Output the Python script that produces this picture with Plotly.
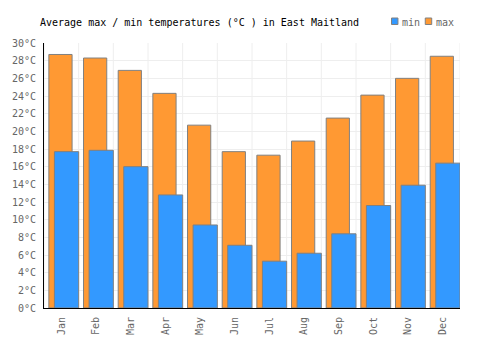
import plotly.graph_objects as go

months = ["Jan", "Feb", "Mar", "Apr", "May", "Jun", "Jul", "Aug", "Sep", "Oct", "Nov", "Dec"]
max_t = [28.7, 28.3, 26.9, 24.3, 20.7, 17.7, 17.3, 18.9, 21.5, 24.1, 26.0, 28.5]
min_t = [17.7, 17.85, 16.0, 12.8, 9.4, 7.1, 5.3, 6.2, 8.4, 11.6, 13.9, 16.4]
y_ticks = list(range(0, 31, 2))
y_tick_labels = [f"{v}°C" for v in y_ticks]

FONT = "DejaVu Sans Mono"
MIN_C = "#3399FF"
MAX_C = "#FF9933"

fig = go.Figure()
fig.add_trace(go.Bar(
    x=months, y=max_t, name="max", marker=dict(color=MAX_C, line=dict(color="#808080", width=1)),
    offset=-0.36, width=0.67, showlegend=False,
))
fig.add_trace(go.Bar(
    x=months, y=min_t, name="min", marker=dict(color=MIN_C, line=dict(color="#808080", width=1)),
    offset=-0.2, width=0.7, showlegend=False,
))

def px_x(p):
    return (p - 41) / 419

def px_y(p):
    return (308 - p) / 265

# custom legend
legend_items = [("min", MIN_C, 391), ("max", MAX_C, 425)]
for label, col, px in legend_items:
    fig.add_shape(type="rect", xref="paper", yref="paper",
                  x0=px_x(px), x1=px_x(px + 6.5),
                  y0=px_y(24.5), y1=px_y(18),
                  fillcolor=col, line=dict(color="#808080", width=1))
    fig.add_annotation(text=label, xref="paper", yref="paper",
                       x=px_x(px + 8.5), y=px_y(22),
                       xanchor="left", yanchor="middle", showarrow=False,
                       font=dict(family=FONT, size=10, color="#666666"))

fig.update_layout(
    width=500, height=350,
    margin=dict(l=41, r=40, t=43, b=42),
    barmode="overlay",
    plot_bgcolor="white", paper_bgcolor="white",
    font=dict(family=FONT, size=10, color="#666666"),
    title=dict(text="Average max / min temperatures (°C ) in East Maitland",
               x=40 / 500, xanchor="left", xref="container",
               y=1 - 22 / 350, yanchor="middle", yref="container",
               font=dict(family=FONT, size=10, color="#000000")),
    xaxis=dict(showline=True, linecolor="#000000", linewidth=1,
               showgrid=False, tickangle=-90, ticks="", tickfont=dict(size=10, color="#666666"),
               range=[-0.5, 11.5], ticklabelstandoff=4),
    yaxis=dict(range=[0, 30], tickvals=y_ticks, ticktext=y_tick_labels,
               showline=True, linecolor="#000000", linewidth=1,
               gridcolor="#eeeeee", gridwidth=1, zeroline=False, ticks="",
               tickfont=dict(size=10, color="#666666"), ticklabelstandoff=5),
)

# vertical gridlines at category boundaries
for i in range(13):
    fig.add_shape(type="line", xref="x", yref="paper", x0=i - 0.5, x1=i - 0.5, y0=0, y1=1,
                  line=dict(color="#eeeeee", width=1), layer="below")

fig.write_html("out.html")
